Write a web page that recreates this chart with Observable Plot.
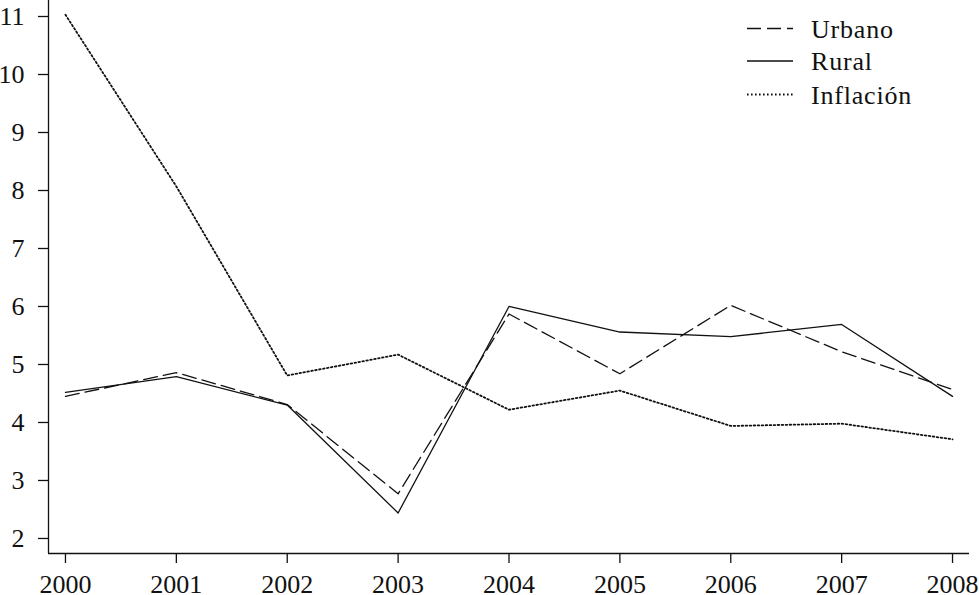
<!DOCTYPE html>
<html>
<head>
<meta charset="utf-8">
<script src="https://cdn.jsdelivr.net/npm/d3@7"></script>
<script src="https://cdn.jsdelivr.net/npm/@observablehq/plot@0.6"></script>
<style>
  html, body { margin: 0; padding: 0; background: #fff; }
  #chart { position: relative; width: 979px; height: 595px; }
  #chart svg, #chart svg text { font-family: "Liberation Serif", "Times New Roman", Times, serif !important; }
</style>
</head>
<body>
<div id="chart"></div>
<script>
const years = [2000, 2001, 2002, 2003, 2004, 2005, 2006, 2007, 2008];
const urbano = [4.45, 4.86, 4.31, 2.77, 5.87, 4.84, 6.02, 5.22, 4.57];
const rural = [4.52, 4.79, 4.30, 2.44, 6.00, 5.56, 5.48, 5.69, 4.45];
const inflacion = [11.03, 8.07, 4.81, 5.17, 4.22, 4.55, 3.94, 3.98, 3.71];
const yTicks = [2, 3, 4, 5, 6, 7, 8, 9, 10, 11];
const seriesNames = ["Urbano", "Rural", "Inflación"];

const xDomain = [1999.847, 2008.153];
const yDomain = [1.741, 11.276];

const toRows = (vals) => years.map((yr, i) => ({year: yr, value: vals[i]}));
const ink = "#111";
const dotDash = "1.6,2.4";

const plot = Plot.plot({
  width: 979,
  height: 595,
  marginLeft: 48,
  marginRight: 10,
  marginTop: 0,
  marginBottom: 42,
  style: {fontSize: "26px", color: ink, background: "white"},
  x: {domain: xDomain, label: null},
  y: {domain: yDomain, label: null},
  marks: [
    Plot.axisX(years, {tickSize: 10, tickPadding: 11, fontSize: 26, tickFormat: d => String(d), label: null, strokeWidth: 1.3}),
    Plot.axisY(yTicks, {tickSize: 10, tickPadding: 14, fontSize: 26, tickFormat: d => String(d), label: null, strokeWidth: 1.3}),
    Plot.ruleX([xDomain[0]], {stroke: ink, strokeWidth: 1.3}),
    Plot.ruleY([yDomain[0]], {stroke: ink, strokeWidth: 1.3}),
    Plot.line(toRows(inflacion), {x: "year", y: "value", stroke: ink, strokeWidth: 1.8, strokeDasharray: dotDash}),
    Plot.line(toRows(urbano), {x: "year", y: "value", stroke: ink, strokeWidth: 1.3, strokeDasharray: "14,6"}),
    Plot.line(toRows(rural), {x: "year", y: "value", stroke: ink, strokeWidth: 1.3})
  ]
});
document.getElementById("chart").appendChild(plot);

// Legend drawn into the plot's SVG (top right, inside plot area)
const svg = d3.select(plot);
const legend = svg.append("g").attr("font-size", 26).attr("fill", ink).attr("text-anchor", "start");
const styles = [
  {dash: "14,6", width: 1.3},
  {dash: null, width: 1.3},
  {dash: dotDash, width: 1.8}
];
const rowY = [28.5, 61, 94.5];
seriesNames.forEach((name, i) => {
  const g = legend.append("g").attr("transform", `translate(0,${rowY[i]})`);
  const l = g.append("line").attr("x1", 747).attr("x2", 793).attr("y1", 0).attr("y2", 0)
    .attr("stroke", ink).attr("stroke-width", styles[i].width);
  if (styles[i].dash) l.attr("stroke-dasharray", styles[i].dash);
  g.append("text").attr("x", 811).attr("y", 9).attr("text-anchor", "start")
    .attr("letter-spacing", "0.8px").text(name);
});
</script>
</body>
</html>
